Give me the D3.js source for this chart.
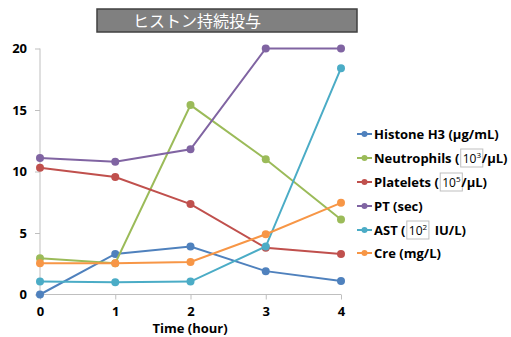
<!DOCTYPE html>
<html><head><meta charset="utf-8">
<script src="https://cdn.jsdelivr.net/npm/d3@7"></script>
<style>
html,body{margin:0;padding:0;background:#fff;}
svg{display:block;}
text{font-family:"Open Sans","Liberation Sans",sans-serif;font-weight:bold;fill:#000;white-space:pre;}
</style></head>
<body>
<svg id="chart" width="511" height="337"></svg>
<script>
const title = "ヒストン持続投与";
const categories = [0, 1, 2, 3, 4];
const xTitle = "Time (hour)";
const yTicks = [0, 5, 10, 15, 20];
const seriesNames = ["Histone H3", "Neutrophils", "Platelets", "PT", "AST", "Cre"];
const seriesColors = ["#4F81BD", "#9BBB59", "#C0504D", "#8064A2", "#4BACC6", "#F79646"];
const histone = [0, 3.3, 3.9, 1.9, 1.1];
const neutrophils = [2.95, 2.55, 15.4, 11.0, 6.1];
const platelets = [10.3, 9.55, 7.35, 3.8, 3.3];
const pt = [11.1, 10.8, 11.8, 20, 20];
const ast = [1.05, 1.0, 1.05, 3.9, 18.4];
const cre = [2.55, 2.55, 2.65, 4.9, 7.45];
// legend label parts: [prefix, boxed base, boxed superscript, suffix]
const legendParts = [
  ["Histone H3 (µg/mL)", "", "", ""],
  ["Neutrophils ( ", "10", "3", "/µL)"],
  ["Platelets ( ", "10", "5", "/µL)"],
  ["PT (sec)", "", "", ""],
  ["AST ( ", "10", "2", "  IU/L)"],
  ["Cre (mg/L)", "", "", ""]
];
const seriesValues = [histone, neutrophils, platelets, pt, ast, cre];

const svg = d3.select("#chart");
const x = d3.scaleLinear().domain([0, 4]).range([40, 341]);
const y = d3.scaleLinear().domain([0, 20]).range([294.5, 48.5]);

// title box
svg.append("rect").attr("x", 97).attr("y", 9).attr("width", 260).attr("height", 23)
  .attr("fill", "#808080").attr("stroke", "#404040").attr("stroke-width", 1.5);
svg.append("text").attr("x", 133).attr("y", 27).text(title)
  .style("font-family", "'Noto Sans CJK JP',sans-serif").style("font-weight", "normal")
  .style("font-size", "16px").style("fill", "#fff");

// y axis
const yAxis = d3.axisLeft(y).tickValues(yTicks).tickSize(5).tickPadding(8);
const gy = svg.append("g").attr("transform", "translate(40,0)").call(yAxis);
gy.select(".domain").attr("stroke", "#bfbfbf").attr("d", `M0,${y(20)}V${y(0)}`);
gy.selectAll(".tick line").attr("stroke", "#bfbfbf");
gy.selectAll(".tick text").style("font-size", "13px").style("font-family", "'Open Sans',sans-serif").style("font-weight", "bold").attr("fill", "#000");

// x axis
const xAxis = d3.axisBottom(x).tickValues(categories).tickFormat(d3.format("d")).tickSize(5).tickPadding(7);
const gx = svg.append("g").attr("transform", `translate(0,${y(0)})`).call(xAxis);
gx.select(".domain").attr("stroke", "#bfbfbf").attr("d", `M${x(0)},0H${x(4)}`);
gx.selectAll(".tick line").attr("stroke", "#bfbfbf");
gx.selectAll(".tick text").style("font-size", "13px").style("font-family", "'Open Sans',sans-serif").style("font-weight", "bold").attr("fill", "#000");

svg.append("text").attr("x", 190).attr("y", 333).attr("text-anchor", "middle")
  .style("font-size", "13px").text(xTitle);

// series
const line = d3.line().x((d, i) => x(categories[i])).y(d => y(d));
seriesValues.forEach((vals, si) => {
  const g = svg.append("g");
  g.append("path").attr("d", line(vals)).attr("fill", "none")
    .attr("stroke", seriesColors[si]).attr("stroke-width", 2);
  g.selectAll("circle").data(vals).join("circle")
    .attr("cx", (d, i) => x(categories[i])).attr("cy", d => y(d)).attr("r", 4)
    .attr("fill", seriesColors[si]);
});

// legend
const legendY = [134, 158, 182, 206, 230, 253];
legendParts.forEach((p, i) => {
  const ly = legendY[i];
  const g = svg.append("g");
  g.append("line").attr("x1", 357).attr("x2", 372).attr("y1", ly).attr("y2", ly)
    .attr("stroke", seriesColors[i]).attr("stroke-width", 2);
  g.append("circle").attr("cx", 364.5).attr("cy", ly).attr("r", 3).attr("fill", seriesColors[i]);
  const t = g.append("text").attr("x", 374).attr("y", ly + 5).style("font-size", "13px");
  const pre = t.append("tspan").text(p[0]);
  if (p[1]) {
    const b = t.append("tspan").text(p[1]).style("font-weight", "normal").style("font-size", "12px");
    const s = t.append("tspan").text(p[2]).attr("dy", -5).style("font-size", "8px").style("font-weight", "normal");
    const gap = t.append("tspan").text(" ").attr("dy", 5).style("font-size", "3px");
    t.append("tspan").text(p[3]);
    const x0 = 374 + pre.node().getComputedTextLength();
    const w = b.node().getComputedTextLength() + s.node().getComputedTextLength() + gap.node().getComputedTextLength();
    g.insert("rect", "text").attr("x", x0 - 2).attr("y", ly - 9).attr("width", w + 3).attr("height", 18)
      .attr("fill", "none").attr("stroke", "#bfbfbf").attr("stroke-width", 1);
  }
});
</script>
</body></html>
